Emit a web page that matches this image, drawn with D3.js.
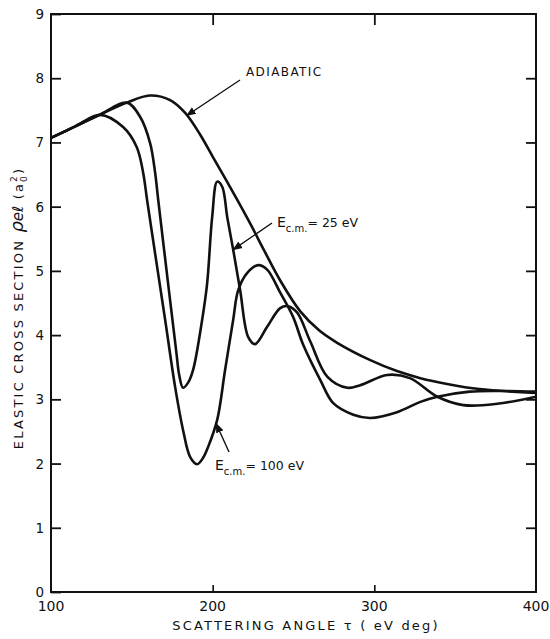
<!DOCTYPE html>
<html>
<head>
<meta charset="utf-8">
<script src="https://cdn.jsdelivr.net/npm/d3@7"></script>
<style>
	body { margin: 0; background: #fff; }
	svg { display: block; }
	.curve { fill: none; stroke: #111; stroke-width: 2.6; stroke-linejoin: round; }
	.frame { fill: none; stroke: #111; stroke-width: 2; }
	text { font-family: "DejaVu Sans", sans-serif; fill: #111; }
</style>
</head>
<body>
<svg id="chart" width="550" height="639"></svg>
<script>
// scattering angle tau (eV deg) and elastic cross section (a0^2)
const adiabatic = [
	[100, 7.07], [115, 7.25], [130, 7.43], [147, 7.62], [161, 7.73], [173.7, 7.66],
	[183, 7.46], [192.3, 7.12], [200, 6.78], [208, 6.43], [216, 6.07], [224, 5.70],
	[232, 5.31], [241.8, 4.85], [254.2, 4.37], [266, 4.07], [277, 3.88], [297.5, 3.61],
	[314, 3.44], [328.5, 3.33], [345, 3.24], [365, 3.16], [400, 3.10]
];
const ecm25 = [
	[100, 7.07], [115, 7.25], [130, 7.43], [147, 7.62], [155.1, 7.40], [161.3, 6.99],
	[164.4, 6.53], [166.3, 6.11], [172.5, 4.79], [177.5, 3.74], [179.3, 3.38], [181.7, 3.18],
	[184.8, 3.26], [187.9, 3.46], [193.5, 4.24], [196.6, 4.81], [199.7, 5.84], [202.8, 6.39],
	[205.9, 6.31], [209, 5.84], [212.7, 5.33], [217, 4.70], [222, 3.97], [226.3, 3.86],
	[233.7, 4.13], [241.8, 4.42], [246.7, 4.45], [252.3, 4.35], [260.4, 3.90], [271, 3.35],
	[283.3, 3.18], [291.3, 3.22], [308, 3.38], [322, 3.33], [339, 3.04], [355, 2.91],
	[376, 2.93], [400, 3.04]
];
const ecm100 = [
	[100, 7.07], [115, 7.25], [130.3, 7.43], [144.6, 7.24], [153, 6.93], [157, 6.53],
	[159.4, 6.11], [165, 5.17], [170.6, 4.24], [176.8, 3.19], [181.7, 2.52], [186.1, 2.10],
	[190.4, 1.99], [194.1, 2.09], [197.2, 2.26], [202.8, 2.68], [207.7, 3.46], [212.7, 4.24],
	[215.8, 4.70], [221.4, 4.97], [228.2, 5.09], [233.7, 5.02], [241.8, 4.66], [249.8, 4.28],
	[256, 3.85], [266.6, 3.30], [274.6, 2.94], [287, 2.76], [297.5, 2.71], [314, 2.80],
	[328.5, 2.96], [339, 3.04], [359, 3.12], [380, 3.13], [400, 3.12]
];
const xTicks = [100, 200, 300, 400];
const yTicks = [0, 1, 2, 3, 4, 5, 6, 7, 8, 9];

const margin = { left: 51, right: 536, top: 14, bottom: 592 };

const svg = d3.select("#chart");

const x = d3.scaleLinear().domain([100, 400]).range([margin.left, margin.right]);
const y = d3.scaleLinear().domain([0, 9]).range([margin.bottom, margin.top]);

// frame
svg.append("rect")
	.classed("frame", true)
	.attr("x", margin.left)
	.attr("y", margin.top)
	.attr("width", margin.right - margin.left)
	.attr("height", margin.bottom - margin.top);

// ticks point inwards, labels only on left and bottom
svg.append("g")
	.attr("transform", `translate(${margin.left},0)`)
	.call(d3.axisRight(y).tickValues(yTicks).tickSize(10).tickFormat(""))
	.call(g => g.select(".domain").remove())
	.call(g => g.selectAll("line").attr("stroke", "#111").attr("stroke-width", 1.8));

svg.append("g")
	.attr("transform", `translate(${margin.right},0)`)
	.call(d3.axisLeft(y).tickValues(yTicks.slice(1, -1)).tickSize(10).tickFormat(""))
	.call(g => g.select(".domain").remove())
	.call(g => g.selectAll("line").attr("stroke", "#111").attr("stroke-width", 1.8));

svg.append("g")
	.attr("transform", `translate(0,${margin.top})`)
	.call(d3.axisBottom(x).tickValues([200, 300]).tickSize(11).tickFormat(""))
	.call(g => g.select(".domain").remove())
	.call(g => g.selectAll("line").attr("stroke", "#111").attr("stroke-width", 1.8));

svg.append("g")
	.attr("transform", `translate(0,${margin.bottom})`)
	.call(d3.axisTop(x).tickValues([200, 300]).tickSize(7).tickFormat(""))
	.call(g => g.select(".domain").remove())
	.call(g => g.selectAll("line").attr("stroke", "#111").attr("stroke-width", 1.6));

svg.append("g")
	.selectAll("text")
	.data(yTicks).enter()
	.append("text")
	.attr("x", margin.left - 7)
	.attr("y", d => y(d) + 5)
	.attr("text-anchor", "end")
	.style("font-size", "13.5px")
	.text(d => d);

svg.append("g")
	.selectAll("text")
	.data(xTicks).enter()
	.append("text")
	.attr("x", d => x(d))
	.attr("y", margin.bottom + 19)
	.attr("text-anchor", "middle")
	.style("font-size", "14px")
	.text(d => d);

// curves
const line = d3.line()
	.x(d => x(d[0]))
	.y(d => y(d[1]))
	.curve(d3.curveCatmullRom.alpha(0.5));

svg.append("g")
	.selectAll("path")
	.data([adiabatic, ecm25, ecm100]).enter()
	.append("path")
	.classed("curve", true)
	.attr("d", line);

// axis titles
svg.append("text")
	.attr("x", 306)
	.attr("y", 630)
	.attr("text-anchor", "middle")
	.style("font-size", "13px")
	.style("letter-spacing", "2.2px")
	.text("SCATTERING  ANGLE  τ ( eV  deg)");

const yTitle = svg.append("text")
	.attr("transform", "translate(23,308) rotate(-90)")
	.attr("text-anchor", "middle")
	.style("font-size", "13px")
	.style("letter-spacing", "2.2px");
yTitle.append("tspan").text("ELASTIC  CROSS  SECTION ");
yTitle.append("tspan").style("font-style", "italic").style("font-size", "18px").style("letter-spacing", "0px").text("ρ");
yTitle.append("tspan").style("font-style", "italic").style("font-size", "15px").style("letter-spacing", "0px").text("eℓ");
yTitle.append("tspan").text("  (a");
yTitle.append("tspan").attr("dy", 4).style("font-size", "9px").text("0");
yTitle.append("tspan").attr("dx", -8).attr("dy", -10).style("font-size", "9px").text("2");
yTitle.append("tspan").attr("dy", 6).text(")");

// curve labels with arrows
svg.append("defs").append("marker")
	.attr("id", "head")
	.attr("viewBox", "0 0 10 10")
	.attr("refX", 9).attr("refY", 5)
	.attr("markerWidth", 7).attr("markerHeight", 7)
	.attr("orient", "auto")
	.append("path")
	.attr("d", "M0,1 L10,5 L0,9 Z")
	.attr("fill", "#111");

const arrows = [
	{ from: [240, 80], to: [x(184), y(7.42)] },
	{ from: [272, 223], to: [x(212.7), y(5.33)] },
	{ from: [229, 452], to: [x(202.2), y(2.62)] }
];
svg.append("g")
	.selectAll("line")
	.data(arrows).enter()
	.append("line")
	.attr("x1", d => d.from[0]).attr("y1", d => d.from[1])
	.attr("x2", d => d.to[0]).attr("y2", d => d.to[1])
	.attr("stroke", "#111")
	.attr("stroke-width", 1.4)
	.attr("marker-end", "url(#head)");

svg.append("text")
	.attr("x", 246)
	.attr("y", 76)
	.style("font-size", "12px")
	.style("letter-spacing", "1.4px")
	.text("ADIABATIC");

function ecmLabel(px, py, value) {
	const t = svg.append("text")
		.attr("x", px)
		.attr("y", py)
		.style("font-size", "14px");
	t.append("tspan").text("E");
	t.append("tspan").attr("dy", 5).style("font-size", "10px").text("c.m.");
	t.append("tspan").attr("dy", -5).style("font-size", "12.5px").text("= " + value + " eV");
}
ecmLabel(277, 227, 25);
ecmLabel(215, 470, 100);
</script>
</body>
</html>
